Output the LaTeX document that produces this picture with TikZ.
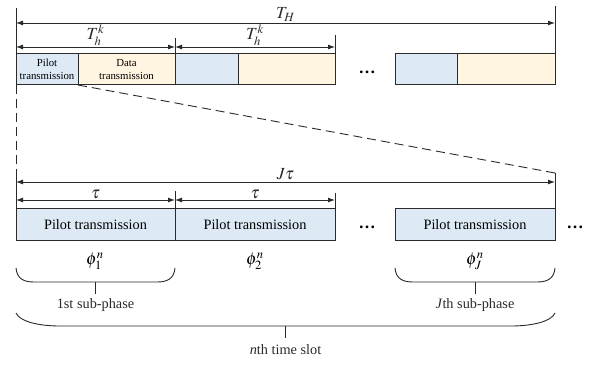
\documentclass[tikz,border=0pt]{standalone}
\usepackage{mathptmx}
\usepackage[no-math]{fontspec}
\setmainfont{Liberation Serif}
\usepackage{tikz}
\usepackage{xcolor}
\usetikzlibrary{arrows.meta,positioning}
\definecolor{pilotblue}{HTML}{DDEAF6}
\definecolor{datayellow}{HTML}{FFF5E1}
\definecolor{linegray}{HTML}{2A2A2A}
\tikzset{
  box/.style={draw=linegray, line width=1pt, minimum height=31pt, inner sep=0pt, outer sep=0pt, font=\fontsize{14.3}{16}\selectfont},
  pilot/.style={box, fill=pilotblue},
  data/.style={box, fill=datayellow},
  small/.style={font=\fontsize{10.8}{12.8}\selectfont, align=center},
  dim/.style={linegray, line width=0.9pt, {Latex[length=7pt,width=5pt]}-{Latex[length=7pt,width=5pt]}},
  lab/.style={font=\fontsize{17}{20}\selectfont},
  txt/.style={font=\fontsize{14.3}{16}\selectfont},
  dots/.style={font=\fontsize{17}{20}\selectfont\bfseries},
  rule/.style={linegray, line width=0.9pt},
  dashline/.style={linegray, line width=0.9pt, dash pattern=on 9pt off 5pt}
}

\begin{document}
\begin{tikzpicture}[x=1pt,y=-1pt]
                \useasboundingbox (0,0) rectangle (594,366);
                \node[pilot, small, minimum width=62pt, anchor=north west] (p1) at (16,54) {Pilot\\transmission};
                \node[data, small, minimum width=97pt, right=0pt of p1] (d1) {Data\\transmission};
                \node[pilot, minimum width=63pt, right=0pt of d1] (p2) {};
                \node[data, minimum width=97pt, right=0pt of p2] (d2) {};
                \node[dots, anchor=base] (dtop) at (367,74) {\dots};
                \node[pilot, minimum width=62pt, anchor=north west] (p3) at (395,54) {};
                \node[data, minimum width=98pt, right=0pt of p3] (d3) {};
                \coordinate (topl) at (16,8);
                \coordinate (topr) at (555,6);
                \coordinate (tHa) at (16,23);
                \coordinate (tHb) at (555,23);
                \coordinate (tha) at (16,47);
                \coordinate (thb) at (175,47);
                \coordinate (thc) at (335,47);
                \draw[rule] (topl) -- (p1.north west);
                \draw[rule] (topr) -- (d3.north east);
                \draw[rule] (p2.north west) -- ++(0,-16);
                \draw[rule] (d2.north east) -- ++(0,-19);
                \draw[dim] (tHa) -- node[lab, above=-2pt]{$T_H$} (tHb);
                \draw[dim] (tha) -- node[lab, above=-2pt]{$T_h^k$} (thb);
                \draw[dim] (thb) -- node[lab, above=-2pt]{$T_h^k$} (thc);
                \node[pilot, minimum width=159pt, anchor=north west] (s1) at (16,209) {Pilot transmission};
                \node[pilot, minimum width=160pt, right=0pt of s1] (s2) {Pilot transmission};
                \node[dots, anchor=base] (dmid) at (367,228) {\dots};
                \node[pilot, minimum width=160pt, anchor=north west] (sJ) at (395,209) {Pilot transmission};
                \node[dots, anchor=base] (dend) at (575,228) {\dots};
                \coordinate (cutl) at (16,172);
                \coordinate (cutr) at (555,173);
                \draw[dashline] (p1.south west) -- (cutl);
                \draw[dashline] (p1.south east) -- (cutr);
                \draw[rule] (cutl) -- (s1.north west);
                \draw[rule] (cutr) -- (sJ.north east);
                \coordinate (jta) at (16,182);
                \coordinate (jtb) at (555,182);
                \coordinate (ta) at (16,200);
                \coordinate (tb) at (175,200);
                \coordinate (tc) at (335,200);
                \draw[rule] (s2.north west) -- ++(0,-18);
                \draw[rule] (s2.north east) -- ++(0,-16);
                \draw[dim] (jta) -- node[lab, above=-2pt]{$J\tau$} (jtb);
                \draw[dim] (ta) -- node[lab, above=-3pt]{$\tau$} (tb);
                \draw[dim] (tb) -- node[lab, above=-3pt]{$\tau$} (tc);
                \node[lab] (f1) at (95,261) {$\phi_1^n$};
                \node[lab] (f2) at (255,261) {$\phi_2^n$};
                \node[lab] (fJ) at (475,261) {$\phi_J^n$};
                \draw[rule] (16,268) .. controls (17,279) and (24,282) .. (34,282) -- (157,282) .. controls (167,282) and (174,279) .. (175,268);
                \draw[rule] (95.5,282) -- (95.5,294) node[txt, below=1pt] (b1) {1st sub-phase};
                \draw[rule] (395,268) .. controls (396,279) and (403,282) .. (413,282) -- (537,282) .. controls (547,282) and (554,279) .. (555,268);
                \draw[rule] (475,282) -- (475,294) node[txt, below=1pt] (bJ) {\textit{J}th sub-phase};
                \draw[rule] (16,313) .. controls (20,322) and (40,326) .. (60,326) -- (511,326) .. controls (531,326) and (551,322) .. (555,313);
                \draw[rule] (285.5,326) -- (285.5,338) node[txt, below=3pt] (bn) {\textit{n}th time slot};
            \end{tikzpicture}
\end{document}
